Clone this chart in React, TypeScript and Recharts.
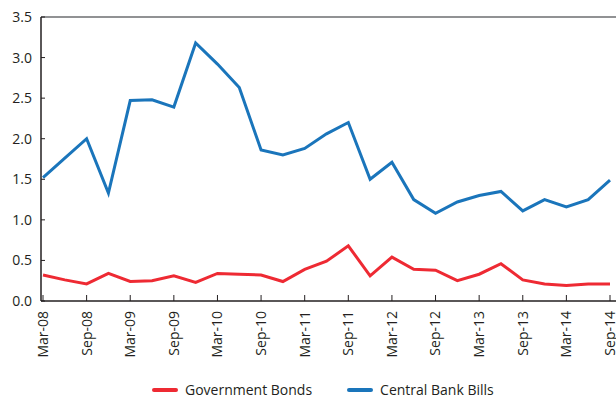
import React from 'react';
import { LineChart, Line, XAxis, YAxis, ReferenceLine, Legend } from 'recharts';

const quarters = [
  "Mar-08", "Jun-08", "Sep-08", "Dec-08", "Mar-09", "Jun-09", "Sep-09", "Dec-09",
  "Mar-10", "Jun-10", "Sep-10", "Dec-10", "Mar-11", "Jun-11", "Sep-11", "Dec-11",
  "Mar-12", "Jun-12", "Sep-12", "Dec-12", "Mar-13", "Jun-13", "Sep-13", "Dec-13",
  "Mar-14", "Jun-14", "Sep-14",
];
const governmentBonds = [
  0.32, 0.26, 0.21, 0.34, 0.24, 0.25, 0.31, 0.23, 0.34, 0.33, 0.32, 0.24, 0.39, 0.49,
  0.68, 0.31, 0.54, 0.39, 0.38, 0.25, 0.33, 0.46, 0.26, 0.21, 0.19, 0.21, 0.21,
];
const centralBankBills = [
  1.52, 1.76, 2.0, 1.33, 2.47, 2.48, 2.39, 3.18, 2.92, 2.63, 1.86, 1.8, 1.88, 2.06,
  2.2, 1.5, 1.71, 1.25, 1.08, 1.22, 1.3, 1.35, 1.11, 1.25, 1.16, 1.25, 1.49,
];
const seriesNames = ["Government Bonds", "Central Bank Bills"];
const xTicks = quarters.filter((q) => q.startsWith("Mar") || q.startsWith("Sep"));
const yTicks = [0, 0.5, 1, 1.5, 2, 2.5, 3, 3.5];

const data = quarters.map((q, i) => ({
  quarter: q,
  gov: governmentBonds[i],
  cbb: centralBankBills[i],
}));

const FONT = '"Open Sans", "Noto Sans", sans-serif';
const TEXT = '#231f20';
const RED = '#ee2a33';
const BLUE = '#1a75bb';
const seriesColors = [RED, BLUE];

const XTick = (props: any) => {
  const { x, y, payload } = props;
  return (
    <text
      x={x}
      y={y}
      transform={`rotate(-90, ${x}, ${y})`}
      textAnchor="end"
      dy="0.35em"
      fill={TEXT}
      fontSize={14}
      fontFamily={FONT}
    >
      {payload.value}
    </text>
  );
};

const renderLegend = () => (
  <div
    style={{
      display: 'flex',
      alignItems: 'center',
      height: 12,
      paddingLeft: 152,
      fontFamily: FONT,
      fontSize: 14,
      color: TEXT,
      whiteSpace: 'nowrap',
    }}
  >
    {seriesNames.map((name, i) => (
      <div key={name} style={{ display: 'flex', alignItems: 'center', marginRight: 35 }}>
        <div style={{ width: 26, height: 4, borderRadius: 2, background: seriesColors[i], marginRight: 7 }} />
        <span style={{ lineHeight: '12px' }}>{name}</span>
      </div>
    ))}
  </div>
);

export default function App() {
  return (
    <div style={{ position: 'absolute', left: 0, top: 0, background: '#fff' }}>
      <LineChart
        width={616}
        height={396}
        data={data}
        margin={{ top: 17, right: 0, left: 0, bottom: 0 }}
        style={{ fontFamily: FONT }}
      >
        <ReferenceLine y={3.5} stroke="#6d6e71" strokeWidth={1.5} />
        <XAxis
          dataKey="quarter"
          ticks={xTicks}
          interval={0}
          height={83}
          padding={{ left: 2, right: 6 }}
          tickSize={-6}
          tickMargin={16}
          tick={<XTick />}
          axisLine={{ stroke: TEXT, strokeWidth: 1.5 }}
          tickLine={{ stroke: TEXT, strokeWidth: 1 }}
        />
        <YAxis
          width={41}
          domain={[0, 3.5]}
          ticks={yTicks}
          interval={0}
          tickFormatter={(v: number) => v.toFixed(1)}
          tickSize={-4}
          tickMargin={13}
          tick={{ fill: TEXT, fontSize: 14, fontFamily: FONT }}
          axisLine={{ stroke: TEXT, strokeWidth: 1.5 }}
          tickLine={{ stroke: TEXT, strokeWidth: 1 }}
        />
        <Legend verticalAlign="bottom" content={renderLegend} wrapperStyle={{ left: 0, width: 616 }} />
        <Line
          type="linear"
          dataKey="gov"
          name={seriesNames[0]}
          stroke={RED}
          strokeWidth={3}
          dot={false}
          isAnimationActive={false}
        />
        <Line
          type="linear"
          dataKey="cbb"
          name={seriesNames[1]}
          stroke={BLUE}
          strokeWidth={3}
          dot={false}
          isAnimationActive={false}
        />
      </LineChart>
    </div>
  );
}
